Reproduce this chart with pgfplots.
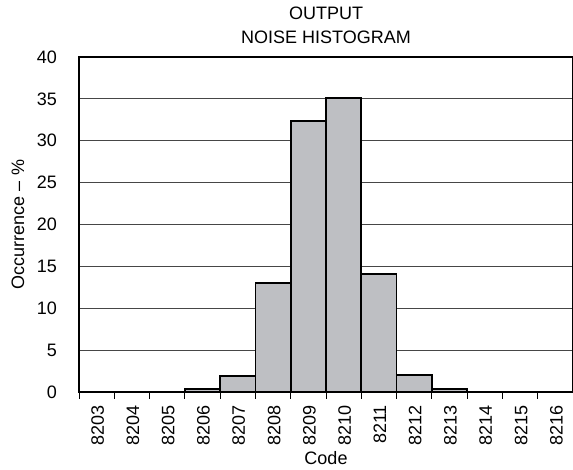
\documentclass[border=0pt]{standalone}
\usepackage{fontspec}
\setmainfont{Liberation Sans}
\usepackage{pgfplots}
\pgfplotsset{compat=1.18}
\definecolor{barfill}{RGB}{190,191,195}
\definecolor{gridgray}{RGB}{70,70,70}
\begin{document}
\fontsize{18bp}{21bp}\selectfont
\begin{tikzpicture}[x=1bp,y=1bp]
\useasboundingbox (0,0) rectangle (573,470);
\begin{axis}[
  at={(79bp,78bp)}, anchor=south west,
  scale only axis, width=494bp, height=335bp,
  xmin=0, xmax=14, ymin=0, ymax=40,
  xtick={0,...,14},
  x tick label as interval,
  xticklabels={8203,8204,8205,8206,8207,8208,8209,8210,8211,8212,8213,8214,8215,8216},
  xticklabel style={rotate=90, anchor=east, yshift=-1bp},
  ytick={0,5,...,40},
  yticklabel style={xshift=-9bp},
  /pgf/number format/assume math mode=true,
  tick pos=left,
  tick align=outside,
  major tick length=7bp,
  xtick style={line width=1bp, black},
  ytick style={draw=none},
  ymajorgrids,
  grid style={gridgray, line width=0.9bp},
  axis line style={line width=1.8bp},
  title={OUTPUT\\NOISE HISTOGRAM},
  title style={align=center, font=\fontsize{18bp}{24bp}\selectfont, yshift=1bp},
  xlabel={Code},
  xlabel style={at={(axis description cs:0.5,-0.198)}, anchor=center},
  ylabel={Occurrence – \%},
  ylabel style={at={(axis description cs:-0.1235,0.5)}, anchor=center},
]
\addplot[ybar interval, fill=barfill, draw=black, line width=1.8bp]
  coordinates {(0,0)(1,0)(2,0)(3,0.35)(4,1.9)(5,13)(6,32.4)(7,35.1)(8,14.1)(9,2)(10,0.35)(11,0)(12,0)(13,0)(14,0)};
\end{axis}
\end{tikzpicture}
\end{document}
